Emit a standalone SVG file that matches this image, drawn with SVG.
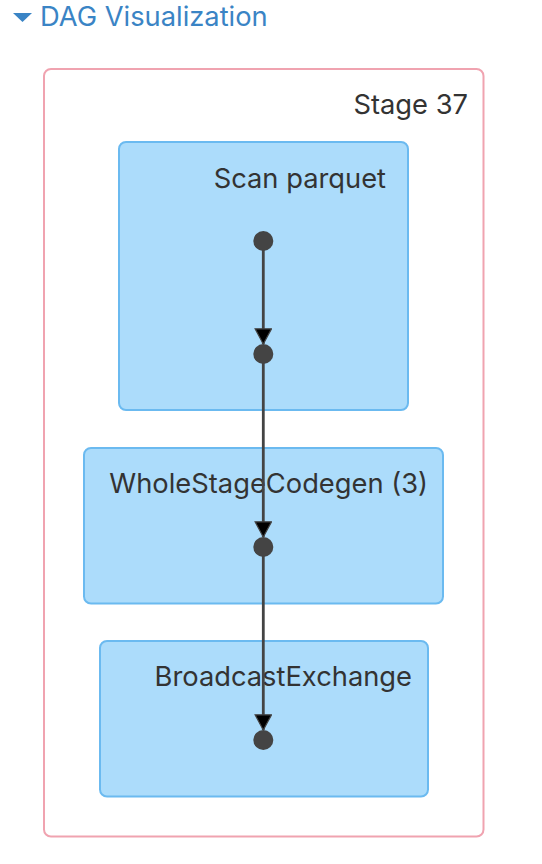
<svg xmlns="http://www.w3.org/2000/svg" width="542" height="864" viewBox="0 0 542 864">
<style>
.lbl{font-family:Inter,"Liberation Sans",Arial,sans-serif;font-size:27.3px;fill:#333;text-anchor:end}
.node{fill:#acdcfb;stroke:#6bbaf0;stroke-width:2}
.dot{fill:#444}
.edge{stroke:#444;stroke-width:2.8;fill:none;marker-end:url(#arr)}
</style>
<defs>
<marker id="arr" markerUnits="userSpaceOnUse" viewBox="0 0 17 18" refX="16" refY="9" markerWidth="17" markerHeight="18" orient="auto">
<path d="M0.8,0.8 L16,9 L0.8,17.2 z" fill="#000" stroke="#444" stroke-width="1.2"/>
</marker>
</defs>
<rect width="542" height="864" fill="#fff"/>
<g id="title">
<path d="M13,13 L32,13 L22.5,22 z" fill="#3a84c5"/>
<text x="40" y="26" font-family="Inter,'Liberation Sans',Arial,sans-serif" font-size="27.3" fill="#3a84c5">DAG Visualization</text>
</g>
<g id="stage37">
<rect x="44" y="69" width="439.5" height="767.5" rx="7" fill="#fff" stroke="#f0a3b0" stroke-width="2"/>
<text class="lbl" x="468" y="114">Stage 37</text>
</g>
<g id="scan-parquet">
<rect class="node" x="119" y="142" width="289" height="268" rx="7"/>
<text class="lbl" x="386" y="188">Scan parquet</text>
</g>
<g id="wholestagecodegen">
<rect class="node" x="84" y="448" width="359" height="155.5" rx="7"/>
<text class="lbl" x="428" y="493">WholeStageCodegen (3)</text>
</g>
<g id="broadcastexchange">
<rect class="node" x="100" y="641" width="328" height="155.5" rx="7"/>
<text class="lbl" x="412" y="686">BroadcastExchange</text>
</g>
<g id="connectors">
<path class="edge" d="M263.3,241 L263.3,344"/>
<path class="edge" d="M263.3,354 L263.3,537"/>
<path class="edge" d="M263.3,547 L263.3,730"/>
</g>
<g id="points">
<circle class="dot" cx="263.3" cy="241" r="10"/>
<circle class="dot" cx="263.3" cy="354" r="10"/>
<circle class="dot" cx="263.3" cy="547" r="10"/>
<circle class="dot" cx="263.3" cy="740" r="10"/>
</g>
</svg>
